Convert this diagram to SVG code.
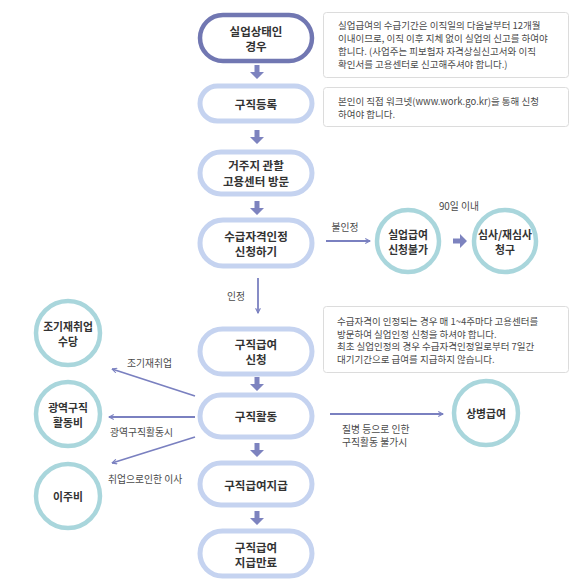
<svg xmlns="http://www.w3.org/2000/svg" width="580" height="583" viewBox="0 0 580 583">
<style>
text{font-family:"Noto Sans CJK KR","Noto Sans",sans-serif;dominant-baseline:central}
.pill{fill:#fff;stroke:#c5d3f0;stroke-width:5}
.pill1{fill:#fff;stroke:#7177b2;stroke-width:4.5}
.nt{font-size:11.5px;font-weight:bold;fill:#333;text-anchor:middle}
.ct{font-size:10.8px;font-weight:bold;fill:#333;text-anchor:middle}
.circ{fill:#fff;stroke:#a9d6dc;stroke-width:4.5}
.box{fill:#fff;stroke:#dcdcdc;stroke-width:1}
.bt{font-size:9.5px;fill:#4a4a4a}
.lb{font-size:9.8px;fill:#4a4a4a}
.thin{stroke:#7a80c0;stroke-width:1.8;fill:none}
.fat{fill:#7d83bf}
</style>
<defs>
<path id="dn" d="M-2.5 0H2.5V7H7L0 14L-7 7H-2.5Z"/>
<marker id="ah" viewBox="0 0 10 10" refX="9" refY="5" markerWidth="6" markerHeight="6" orient="auto" markerUnits="userSpaceOnUse">
<path d="M1 1L9 5L1 9" fill="none" stroke="#7a80c0" stroke-width="1.8"/>
</marker>
</defs>

<g id="connectors">
<use href="#dn" class="fat" x="257" y="65"/>
<use href="#dn" class="fat" x="257" y="130"/>
<use href="#dn" class="fat" x="257" y="201"/>
<use href="#dn" class="fat" x="257" y="377"/>
<use href="#dn" class="fat" x="257" y="443"/>
<use href="#dn" class="fat" x="257" y="511"/>
<use href="#dn" class="fat" transform="translate(453 241) rotate(-90)"/>
<line class="thin" x1="258" y1="278" x2="258" y2="313" marker-end="url(#ah)"/>
<text class="lb" x="236" y="296" text-anchor="middle">인정</text>
<line class="thin" x1="326" y1="241" x2="370" y2="241" marker-end="url(#ah)"/>
<text class="lb" x="345" y="227" text-anchor="middle">불인정</text>
<text class="lb" x="459" y="206" text-anchor="middle">90일 이내</text>
<line class="thin" x1="195" y1="396" x2="112" y2="369" marker-end="url(#ah)"/>
<text class="lb" x="127" y="363">조기재취업</text>
<line class="thin" x1="195" y1="417" x2="109" y2="417" marker-end="url(#ah)"/>
<text class="lb" x="110" y="432">광역구직활동시</text>
<line class="thin" x1="195" y1="437" x2="112" y2="463" marker-end="url(#ah)"/>
<text class="lb" x="108" y="479">취업으로인한 이사</text>
<line class="thin" x1="330" y1="414" x2="443" y2="414" marker-end="url(#ah)"/>
<text class="lb" x="342" y="429">질병 등으로 인한</text>
<text class="lb" x="342" y="442">구직활동 불가시</text>
</g>

<g id="n1"><rect class="pill1" x="200" y="15" width="112" height="46" rx="23"/>
<text class="nt" x="256" y="31">실업상태인</text><text class="nt" x="256" y="46">경우</text></g>
<g id="n2"><rect class="pill" x="200" y="86" width="112" height="35" rx="17.5"/>
<text class="nt" x="256" y="103.5">구직등록</text></g>
<g id="n3"><rect class="pill" x="200" y="152" width="112" height="42" rx="21"/>
<text class="nt" x="256" y="165">거주지 관할</text><text class="nt" x="256" y="181">고용센터 방문</text></g>
<g id="n4"><rect class="pill" x="200" y="220" width="112" height="46" rx="23"/>
<text class="nt" x="256" y="236">수급자격인정</text><text class="nt" x="256" y="251">신청하기</text></g>
<g id="n5"><rect class="pill" x="200" y="329" width="112" height="45" rx="22.5"/>
<text class="nt" x="256" y="344">구직급여</text><text class="nt" x="256" y="359">신청</text></g>
<g id="n6"><rect class="pill" x="200" y="395" width="112" height="42" rx="21"/>
<text class="nt" x="256" y="416">구직활동</text></g>
<g id="n7"><rect class="pill" x="200" y="463" width="112" height="42" rx="21"/>
<text class="nt" x="256" y="485">구직급여지급</text></g>
<g id="n8"><rect class="pill" x="200" y="531" width="112" height="45" rx="22.5"/>
<text class="nt" x="256" y="547">구직급여</text><text class="nt" x="256" y="562">지급만료</text></g>

<g id="c1"><circle class="circ" cx="408" cy="241" r="31"/>
<text class="ct" x="408" y="234">실업급여</text><text class="ct" x="408" y="249">신청불가</text></g>
<g id="c2"><circle class="circ" cx="505" cy="241" r="31"/>
<text class="ct" x="505" y="234">심사/재심사</text><text class="ct" x="505" y="249">청구</text></g>
<g id="c3"><circle class="circ" cx="68" cy="333" r="32"/>
<text class="ct" x="68" y="326">조기재취업</text><text class="ct" x="68" y="341">수당</text></g>
<g id="c4"><circle class="circ" cx="68" cy="414" r="32"/>
<text class="ct" x="68" y="407">광역구직</text><text class="ct" x="68" y="422">활동비</text></g>
<g id="c5"><circle class="circ" cx="68" cy="496" r="32"/>
<text class="ct" x="68" y="496">이주비</text></g>
<g id="c6"><circle class="circ" cx="486" cy="413" r="32"/>
<text class="ct" x="486" y="413">상병급여</text></g>

<g id="b1"><rect class="box" x="323.5" y="12.5" width="245" height="65" rx="3"/>
<text class="bt" x="338" y="25">실업급여의 수급기간은 이직일의 다음날부터 12개월</text>
<text class="bt" x="338" y="38">이내이므로, 이직 이후 지체 없이 실업의 신고를 하여야</text>
<text class="bt" x="338" y="51">합니다. (사업주는 피보험자 자격상실신고서와 이직</text>
<text class="bt" x="338" y="64">확인서를 고용센터로 신고해주셔야 합니다.)</text></g>
<g id="b2"><rect class="box" x="323.5" y="87.5" width="245" height="39" rx="3"/>
<text class="bt" x="338" y="101">본인이 직접 워크넷(www.work.go.kr)을 통해 신청</text>
<text class="bt" x="338" y="113.5">하여야 합니다.</text></g>
<g id="b3"><rect class="box" x="323.5" y="306.5" width="245" height="66" rx="3"/>
<text class="bt" x="337" y="321">수급자격이 인정되는 경우 매 1~4주마다 고용센터를</text>
<text class="bt" x="337" y="333.5">방문하여 실업인정 신청을 하셔야 합니다.</text>
<text class="bt" x="337" y="346">최초 실업인정의 경우 수급자격인정일로부터 7일간</text>
<text class="bt" x="337" y="358.5">대기기간으로 급여를 지급하지 않습니다.</text></g>
</svg>
